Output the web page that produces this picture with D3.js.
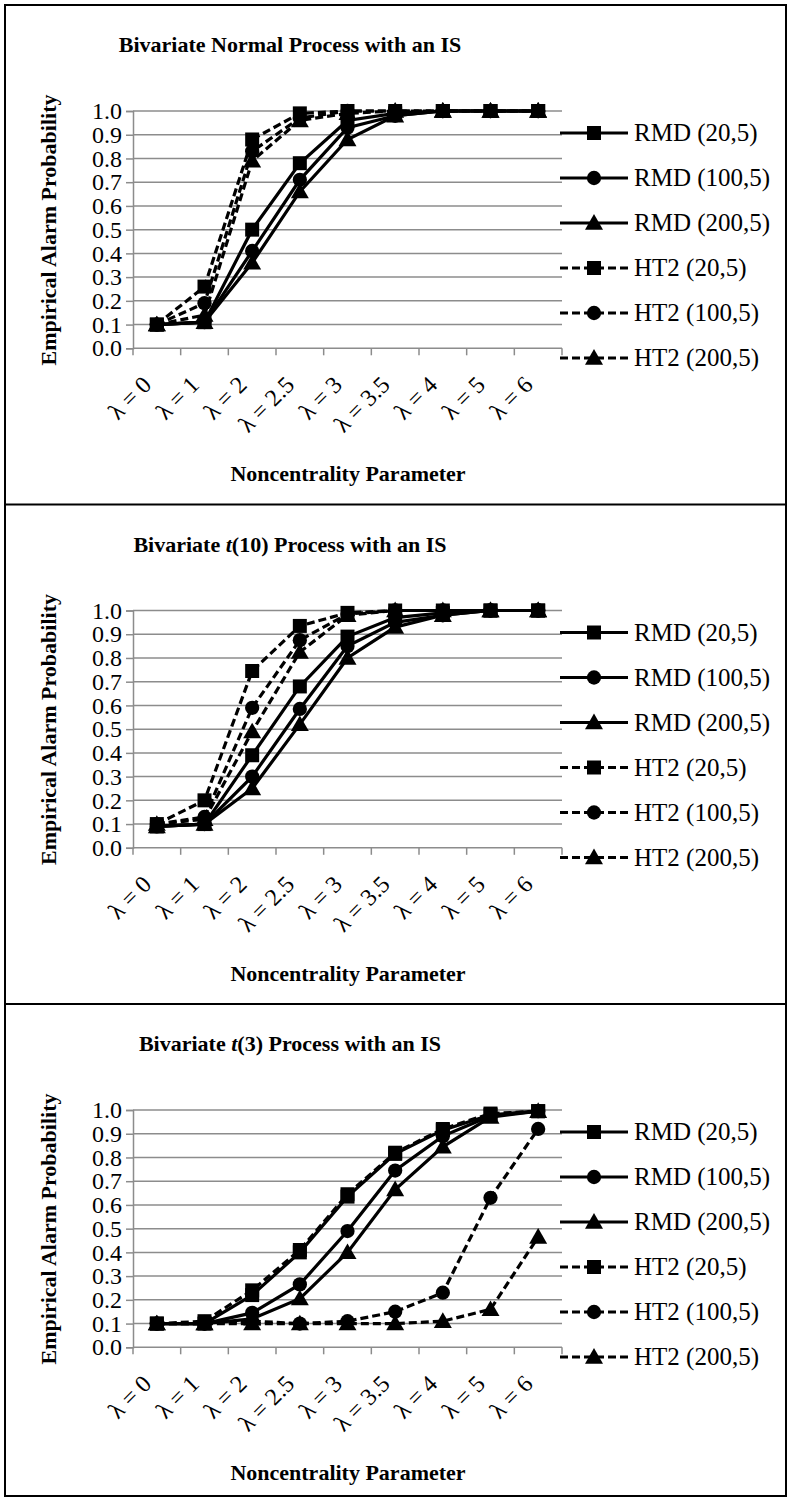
<!DOCTYPE html>
<html>
<head>
<meta charset="utf-8">
<script src="https://cdn.jsdelivr.net/npm/d3@7"></script>
<style>
  html, body { margin: 0; padding: 0; background: #fff; }
  svg { display: block; }
  text { font-family: "Liberation Serif", "Times New Roman", serif; fill: #000; }
</style>
</head>
<body>
<svg id="chart" width="790" height="1500"></svg>
<script>
// Category labels along the x axis (noncentrality parameter)
const categories = ["λ = 0", "λ = 1", "λ = 2", "λ = 2.5", "λ = 3", "λ = 3.5", "λ = 4", "λ = 5", "λ = 6"];
const yTicks = [0, 0.1, 0.2, 0.3, 0.4, 0.5, 0.6, 0.7, 0.8, 0.9, 1.0];
const seriesNames = ["RMD (20,5)", "RMD (100,5)", "RMD (200,5)", "HT2 (20,5)", "HT2 (100,5)", "HT2 (200,5)"];

// Bivariate normal process
const normalRMD20   = [0.10, 0.11, 0.50, 0.78, 0.96, 0.99, 1.00, 1.00, 1.00];
const normalRMD100  = [0.10, 0.11, 0.41, 0.71, 0.93, 0.98, 1.00, 1.00, 1.00];
const normalRMD200  = [0.10, 0.11, 0.36, 0.66, 0.88, 0.98, 1.00, 1.00, 1.00];
const normalHT2_20  = [0.10, 0.26, 0.88, 0.99, 1.00, 1.00, 1.00, 1.00, 1.00];
const normalHT2_100 = [0.10, 0.19, 0.83, 0.97, 1.00, 1.00, 1.00, 1.00, 1.00];
const normalHT2_200 = [0.10, 0.14, 0.79, 0.96, 0.99, 1.00, 1.00, 1.00, 1.00];

// Bivariate t(10) process
const t10RMD20   = [0.09, 0.10, 0.39, 0.68, 0.89, 0.97, 0.99, 1.00, 1.00];
const t10RMD100  = [0.09, 0.10, 0.30, 0.585, 0.85, 0.95, 0.98, 1.00, 1.00];
const t10RMD200  = [0.09, 0.10, 0.25, 0.52, 0.80, 0.93, 0.98, 1.00, 1.00];
const t10HT2_20  = [0.10, 0.20, 0.745, 0.935, 0.99, 1.00, 1.00, 1.00, 1.00];
const t10HT2_100 = [0.10, 0.13, 0.59, 0.875, 0.985, 1.00, 1.00, 1.00, 1.00];
const t10HT2_200 = [0.10, 0.12, 0.49, 0.825, 0.98, 1.00, 1.00, 1.00, 1.00];

// Bivariate t(3) process
const t3RMD20   = [0.10, 0.10, 0.22, 0.40, 0.635, 0.815, 0.915, 0.98, 0.995];
const t3RMD100  = [0.10, 0.10, 0.145, 0.265, 0.49, 0.745, 0.89, 0.975, 0.995];
const t3RMD200  = [0.10, 0.10, 0.12, 0.205, 0.40, 0.665, 0.845, 0.97, 0.995];
const t3HT2_20  = [0.10, 0.11, 0.24, 0.41, 0.645, 0.82, 0.92, 0.985, 0.995];
const t3HT2_100 = [0.10, 0.10, 0.11, 0.10, 0.11, 0.15, 0.23, 0.63, 0.92];
const t3HT2_200 = [0.10, 0.10, 0.10, 0.10, 0.10, 0.10, 0.11, 0.16, 0.465];

const panels = [
  { pre: "Bivariate Normal Process with an IS", ital: "", post: "",
    series: [normalRMD20, normalRMD100, normalRMD200, normalHT2_20, normalHT2_100, normalHT2_200] },
  { pre: "Bivariate ", ital: "t", post: "(10) Process with an IS",
    series: [t10RMD20, t10RMD100, t10RMD200, t10HT2_20, t10HT2_100, t10HT2_200] },
  { pre: "Bivariate ", ital: "t", post: "(3) Process with an IS",
    series: [t3RMD20, t3RMD100, t3RMD200, t3HT2_20, t3HT2_100, t3HT2_200] }
];

// marker shape and line style per series
const markerKind = ["square", "circle", "triangle", "square", "circle", "triangle"];
const dashed = [false, false, false, true, true, true];

const svg = d3.select("#chart");
const panelStep = 499.5;
const gridColor = "#8c8c8c";
const serif = "Liberation Serif";

// outer frame and panel separators
svg.append("rect").attr("x", 5).attr("y", 5).attr("width", 781).attr("height", 1491)
  .attr("fill", "none").attr("stroke", "#000").attr("stroke-width", 2);
[1, 2].forEach(i => {
  svg.append("line").attr("x1", 5).attr("x2", 786)
    .attr("y1", 5 + i * panelStep).attr("y2", 5 + i * panelStep)
    .attr("stroke", "#000").attr("stroke-width", 2);
});

const symbolFor = {
  square: d3.symbol().type(d3.symbolSquare).size(196),
  circle: d3.symbol().type(d3.symbolCircle).size(160),
  triangle: d3.symbol().type(d3.symbolTriangle).size(140)
};

function drawMarker(sel, kind, x, y) {
  sel.append("path")
    .attr("d", symbolFor[kind]())
    .attr("transform", `translate(${x},${y + (kind === "triangle" ? 1.5 : 0)})`)
    .attr("fill", "#000");
}

panels.forEach((p, pi) => {
  const g = svg.append("g").attr("transform", `translate(0,${pi * panelStep})`);

  const x = d3.scaleBand().domain(categories).range([133, 562]).padding(0);
  const y = d3.scaleLinear().domain([0, 1]).range([348.3, 111]);

  // title
  const title = g.append("text").attr("x", 290).attr("y", 52)
    .attr("text-anchor", "middle").attr("font-size", 22).attr("font-weight", "bold")
    .attr("font-family", serif);
  title.append("tspan").text(p.pre);
  if (p.ital) {
    title.append("tspan").attr("font-style", "italic").text(p.ital);
    title.append("tspan").text(p.post);
  }

  // horizontal gridlines
  g.append("g").selectAll("line").data(yTicks.slice(1)).join("line")
    .attr("x1", 133).attr("x2", 562)
    .attr("y1", d => y(d)).attr("y2", d => y(d))
    .attr("stroke", gridColor).attr("stroke-width", 1.5);

  // y axis
  const yAxis = g.append("g").attr("transform", "translate(133,0)")
    .call(d3.axisLeft(y).tickValues(yTicks).tickFormat(d3.format(".1f")).tickSizeOuter(0).tickSize(7).tickPadding(4));
  yAxis.attr("font-family", serif).attr("font-size", 24);
  yAxis.select(".domain").attr("stroke", gridColor).attr("stroke-width", 1.5);
  yAxis.selectAll(".tick line").attr("stroke", gridColor).attr("stroke-width", 1.5);
  yAxis.selectAll(".tick text").attr("font-size", 24).attr("font-family", serif).attr("fill", "#000");

  // x axis with ticks at category boundaries
  const xAxis = g.append("g").attr("transform", `translate(0,${y(0)})`);
  xAxis.append("line").attr("x1", 133).attr("x2", 562).attr("y1", 0).attr("y2", 0)
    .attr("stroke", gridColor).attr("stroke-width", 1.5);
  const bounds = categories.map(c => x(c)).concat([x.range()[1]]);
  xAxis.selectAll("line.tk").data(bounds).join("line").attr("class", "tk")
    .attr("x1", d => d).attr("x2", d => d).attr("y1", 0).attr("y2", 7)
    .attr("stroke", gridColor).attr("stroke-width", 1.5);
  xAxis.selectAll("text").data(categories).join("text")
    .attr("transform", d => `translate(${x(d) + x.bandwidth() / 2 - 4},${38}) rotate(-45)`)
    .attr("text-anchor", "end").attr("font-size", 24).attr("font-family", serif)
    .text(d => d);

  // axis titles
  g.append("text").attr("x", 348).attr("y", 481).attr("text-anchor", "middle")
    .attr("font-size", 22).attr("font-weight", "bold").attr("font-family", serif)
    .text("Noncentrality Parameter");
  g.append("text").attr("transform", `translate(56,${230}) rotate(-90)`)
    .attr("text-anchor", "middle").attr("font-size", 22).attr("font-weight", "bold")
    .attr("font-family", serif)
    .text("Empirical Alarm Probability");

  // series lines and markers
  const line = d3.line()
    .x((d, i) => x(categories[i]) + x.bandwidth() / 2)
    .y(d => y(d));
  p.series.forEach((vals, si) => {
    const sg = g.append("g");
    sg.append("path").datum(vals).attr("d", line)
      .attr("fill", "none").attr("stroke", "#000").attr("stroke-width", 3.2)
      .attr("stroke-dasharray", dashed[si] ? "8,4" : null);
    vals.forEach((v, i) => drawMarker(sg, markerKind[si], x(categories[i]) + x.bandwidth() / 2, y(v)));
  });

  // legend
  const lg = g.append("g");
  seriesNames.forEach((name, si) => {
    const ly = 133 + si * 45;
    lg.append("line").attr("x1", 560).attr("x2", 628).attr("y1", ly).attr("y2", ly)
      .attr("stroke", "#000").attr("stroke-width", 3.2)
      .attr("stroke-dasharray", dashed[si] ? "8,4" : null);
    drawMarker(lg, markerKind[si], 594, ly);
    lg.append("text").attr("x", 634).attr("y", ly + 8).attr("font-size", 25)
      .attr("font-family", serif).text(name);
  });
});
</script>
</body>
</html>
